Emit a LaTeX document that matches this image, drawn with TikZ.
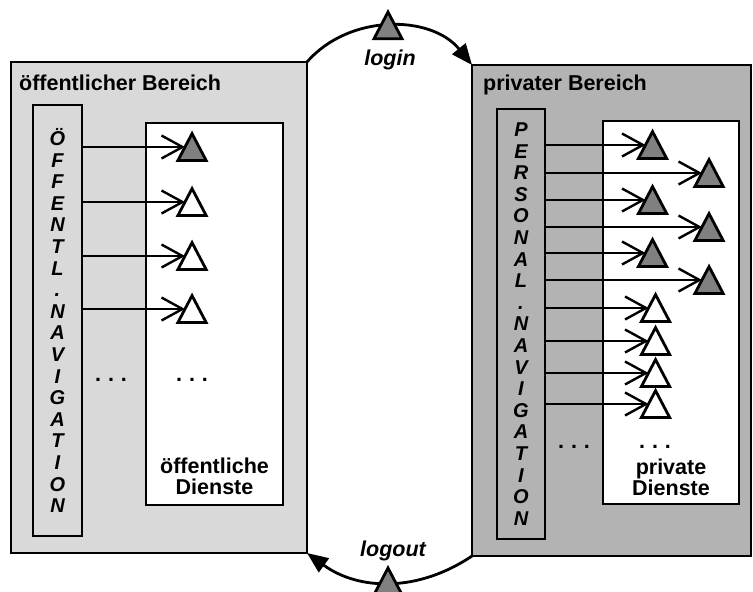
\documentclass[tikz,border=0pt]{standalone}
\usepackage{fontspec}
\setmainfont{Liberation Sans}
\usetikzlibrary{arrows.meta,shapes.geometric}
\definecolor{pubGray}{RGB}{217,217,217}
\definecolor{privGray}{RGB}{179,179,179}
\definecolor{triGray}{RGB}{128,128,128}

\tikzset{
    area/.style={draw, line width=2.8pt, inner sep=0pt, outer sep=0pt, anchor=north west},
    navbar/.style={area, align=center, font=\fontsize{20}{21.6}\selectfont\bfseries\itshape},
    svcbox/.style={area, fill=white},
    svc/.style={draw, line width=2.8pt, regular polygon, regular polygon sides=3,
        minimum size=32.5pt, inner sep=0pt, outer sep=0pt, yscale=1.1, transform shape},
    call/.style={line width=2.4pt, -{Straight Barb[length=21pt,width=23pt]}},
    flow/.style={line width=2.8pt, -{Triangle[length=21pt,width=17pt]}},
    lbl/.style={font=\fontsize{21.5}{21.5}\selectfont\bfseries, align=center, inner sep=0pt},
    act/.style={lbl, font=\fontsize{21.5}{21.5}\selectfont\bfseries\itshape}
}

\begin{document}
\begin{tikzpicture}[x=1pt,y=-1pt]
    \clip (0,0) rectangle (753,592);
    % Draw the two areas
    \node[area, fill=pubGray, minimum width=296pt, minimum height=491pt] (pub) at (11,62) {};
    \node[area, fill=privGray, minimum width=279pt, minimum height=491pt] (priv) at (472,65) {};
    \node[lbl, anchor=base west] (pubtitle) at (19,90) {öffentlicher Bereich};
    \node[lbl, anchor=base west] (privtitle) at (483,90) {privater Bereich};

    % Navigation bars
    \node[navbar, fill=pubGray, minimum width=49pt, minimum height=431pt] (pubnav) at (33,105)
        {Ö\\F\\F\\E\\N\\T\\L\\.\\N\\A\\V\\I\\G\\A\\T\\I\\O\\N};
    \node[navbar, fill=privGray, minimum width=48pt, minimum height=430pt] (privnav) at (497,109)
        {P\\E\\R\\S\\O\\N\\A\\L\\.\\N\\A\\V\\I\\G\\A\\T\\I\\O\\N};

    % Service boxes
    \node[svcbox, minimum width=137pt, minimum height=382pt] (pubsvc) at (146,123) {};
    \node[svcbox, minimum width=136pt, minimum height=383pt] (privsvc) at (603,121) {};
    \node[lbl, anchor=south] (pubsvctxt) at (214.5,495) {öffentliche\\Dienste};
    \node[lbl, anchor=south] (privsvctxt) at (671,496) {private\\Dienste};

    % Dots
    \node[lbl] (pubdots) at (111,380) {.\hspace{7pt}.\hspace{7pt}.};
    \node[lbl] (pubsvcdots) at (192,380) {.\hspace{7pt}.\hspace{7pt}.};
    \node[lbl] (privdots) at (574,447) {.\hspace{7pt}.\hspace{7pt}.};
    \node[lbl] (privsvcdots) at (655,447) {.\hspace{7pt}.\hspace{7pt}.};

    % Public services
    \foreach \y/\col [count=\i] in {147/triGray, 202/white, 256/white, 309/white} {
        \node[svc, fill=\col, anchor=side 1] (p\i) at (185,\y) {};
        \draw[call] (pubnav.east |- p\i.side 1) -- (p\i.side 1);
    }

    % Private services
    \foreach \y/\x/\col [count=\i] in {145/645.5/triGray, 173/702/triGray, 200/645.5/triGray,
        227/702/triGray, 253/645.5/triGray, 280/702/triGray,
        308/648.5/white, 341/648.5/white, 373/648.5/white, 404/648.5/white} {
        \node[svc, fill=\col, anchor=side 1] (q\i) at (\x,\y) {};
        \draw[call] (privnav.east |- q\i.side 1) -- (q\i.side 1);
    }

    % Login and logout
    \draw[flow] (pub.north east) to[bend left=50] (priv.north west);
    \node[svc, fill=triGray, anchor=corner 1] (login) at (388,12) {};
    \node[act, anchor=base] (logintxt) at (390,65) {login};

    \draw[flow] (priv.south west) to[bend left=35] (pub.south east);
    \node[svc, fill=triGray, anchor=corner 1] (logout) at (388,568) {};
    \node[act, anchor=base] (logouttxt) at (393,556) {logout};
\end{tikzpicture}
\end{document}
